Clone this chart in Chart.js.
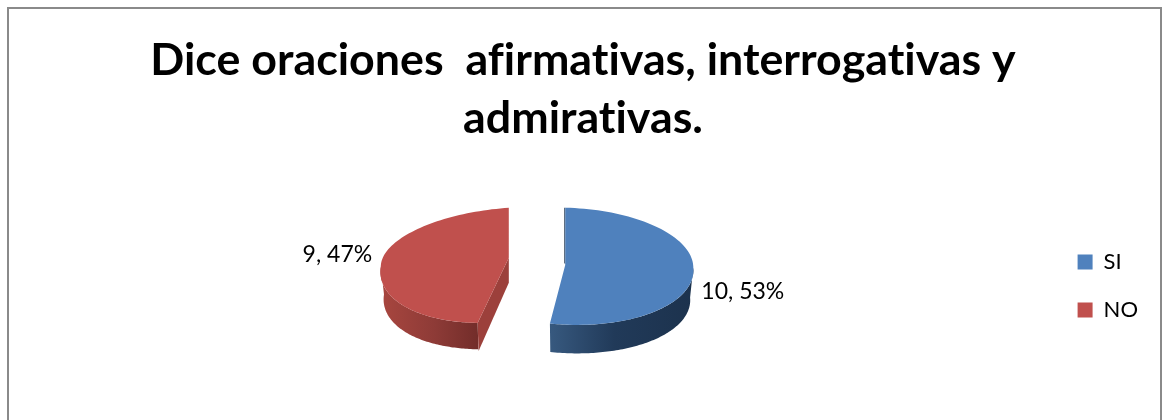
<!DOCTYPE html>
<html>
<head>
<meta charset="utf-8">
<style>
html, body { margin: 0; width: 1166px; height: 420px; overflow: hidden; background: #fff; }
#frame { position: absolute; left: 7px; top: 7px; width: 1151px; height: 440px; border: 2px solid #8a8a8a; }
#chart { position: absolute; left: 0; top: 0; }
</style>
<script src="https://cdn.jsdelivr.net/npm/chart.js@4"></script>
</head>
<body>
<div id="frame"></div>
<canvas id="chart" width="1166" height="420"></canvas>
<script>
var titleLines = ["Dice oraciones  afirmativas, interrogativas y", "admirativas."];
var categories = ["SI", "NO"];
var values = [10, 9];
var topColors = ["#4F81BD", "#C0504D"];

// how each exploded slice is tilted on screen
var sliceViews = [
    { shiftX: 30.5, shiftY: 6, kTop: 0.445, kBot: 0.47, shear: 0.045, tilt: 0.023, depth: 30, wall: ["#37597f", "#213a59", "#1c324d"] },
    { shiftX: -26, shiftY: -1, kTop: 0.39, kBot: 0.505, shear: -0.08, tilt: -0.07, depth: 28, wall: ["#a8463f", "#8e3b37", "#732d2a"], cut: "#9c403b" }
];
var labelShifts = [[8, 19], [-9, -8]];

function project(arc, view, angle, r) {
    var dx = r * Math.cos(angle);
    var dy = r * Math.sin(angle);
    return {
        x: arc.x + view.shiftX + dx + (dy > 0 ? view.shear * dy : 0),
        y: arc.y + view.shiftY + dy * (dy < 0 ? view.kTop : view.kBot) + view.tilt * dx
    };
}

function tracePie(ctx, arc, view, from, to, r) {
    var steps = 90;
    for (var s = 0; s <= steps; s++) {
        var p = project(arc, view, from + (to - from) * s / steps, r);
        ctx.lineTo(p.x, p.y);
    }
}

function drawWall(ctx, arc, view) {
    var from = Math.max(arc.startAngle, 0);
    var to = Math.min(arc.endAngle, Math.PI);
    var a = project(arc, view, from, arc.outerRadius);
    var b = project(arc, view, to, arc.outerRadius);
    var grad = ctx.createLinearGradient(b.x, 0, a.x, 0);
    grad.addColorStop(0, view.wall[0]);
    grad.addColorStop(view.cut ? 0.55 : 0.45, view.wall[1]);
    grad.addColorStop(1, view.wall[2]);
    ctx.beginPath();
    tracePie(ctx, arc, view, from, to, arc.outerRadius);
    var steps = 90;
    for (var s = steps; s >= 0; s--) {
        var p = project(arc, view, from + (to - from) * s / steps, arc.outerRadius * 0.975);
        ctx.lineTo(p.x, p.y + view.depth);
    }
    ctx.closePath();
    ctx.fillStyle = grad;
    ctx.fill();
}

function drawCut(ctx, arc, view) {
    var apex = project(arc, view, 0, 0);
    var end = project(arc, view, arc.startAngle, arc.outerRadius);
    ctx.beginPath();
    ctx.moveTo(apex.x, apex.y);
    ctx.lineTo(end.x, end.y);
    ctx.lineTo(end.x + 1, end.y + view.depth);
    ctx.lineTo(apex.x, apex.y + view.depth - 3);
    ctx.closePath();
    ctx.fillStyle = view.cut;
    ctx.fill();
}

function drawSliver(ctx, arc, view) {
    var apex = project(arc, view, 0, 0);
    var top = project(arc, view, arc.startAngle, arc.outerRadius);
    ctx.beginPath();
    ctx.moveTo(top.x, top.y);
    ctx.lineTo(apex.x, apex.y);
    ctx.lineTo(apex.x - 1, apex.y - 2);
    ctx.lineTo(top.x - 1, top.y);
    ctx.closePath();
    ctx.fillStyle = "#1c324d";
    ctx.fill();
}

var pie3d = {
    id: "pie3d",
    beforeDraw: function (chart) {
        // Lato joins "ti" and "fi" otherwise, the reference does not
        chart.ctx.letterSpacing = "0.01px";
    },
    beforeDatasetsDraw: function (chart) {
        var ctx = chart.ctx;
        var arcs = chart.getDatasetMeta(0).data;
        var total = values.reduce(function (a, b) { return a + b; }, 0);
        ctx.save();
        arcs.forEach(function (arc, i) {
            var view = sliceViews[i];
            drawWall(ctx, arc, view);
            if (view.cut) {
                drawCut(ctx, arc, view);
            } else {
                drawSliver(ctx, arc, view);
            }
            var apex = project(arc, view, 0, 0);
            ctx.beginPath();
            ctx.moveTo(apex.x, apex.y);
            tracePie(ctx, arc, view, arc.startAngle, arc.endAngle, arc.outerRadius);
            ctx.closePath();
            ctx.fillStyle = topColors[i];
            ctx.fill();
        });
        ctx.font = "23px Lato";
        ctx.fillStyle = "#000";
        ctx.textBaseline = "middle";
        arcs.forEach(function (arc, i) {
            var mid = (arc.startAngle + arc.endAngle) / 2;
            var p = project(arc, sliceViews[i], mid, arc.outerRadius);
            ctx.textAlign = i === 0 ? "left" : "right";
            var text = values[i] + ", " + Math.round(values[i] / total * 100) + "%";
            ctx.fillText(text, p.x + labelShifts[i][0], p.y + labelShifts[i][1]);
        });
        ctx.restore();
        return false;
    }
};

new Chart(document.getElementById("chart"), {
    type: "pie",
    data: {
        labels: categories,
        datasets: [{
            data: values,
            backgroundColor: topColors,
            borderWidth: 0,
            radius: 128,
            clip: false
        }]
    },
    options: {
        responsive: false,
        animation: false,
        layout: { padding: { left: 18, bottom: 73, right: 18, top: 31 } },
        plugins: {
            tooltip: { enabled: false },
            title: {
                display: true,
                text: titleLines,
                color: "#000",
                font: { family: "Lato", size: 44.75, weight: "bold", lineHeight: 1.3 },
                padding: { top: 0, bottom: 23 }
            },
            legend: {
                position: "right",
                align: "end",
                labels: {
                    boxWidth: 15,
                    boxHeight: 15,
                    padding: 26,
                    color: "#000",
                    font: { family: "Lato", size: 22 }
                }
            }
        }
    },
    plugins: [pie3d]
});
</script>
</body>
</html>
